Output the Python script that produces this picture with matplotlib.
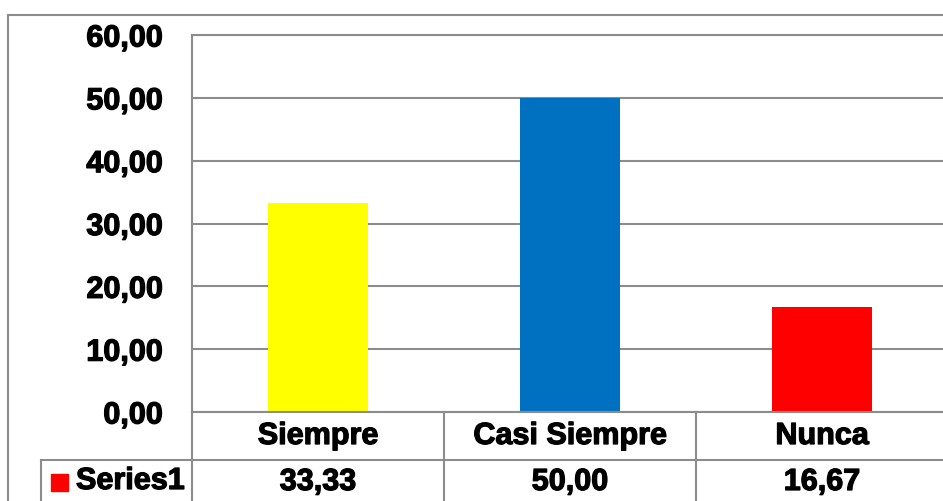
import matplotlib.pyplot as plt
import matplotlib.patheffects as pe
from matplotlib.lines import Line2D
from matplotlib.patches import Rectangle

categories = ['Siempre', 'Casi Siempre', 'Nunca']
values = [33.33, 50.00, 16.67]
colors = ['#ffff00', '#0070c0', '#ff0000']
series_name = 'Series1'
yticks = [0, 10, 20, 30, 40, 50, 60]

W, H = 943, 501
grid_c = '#8c8c8c'
bold = [pe.withStroke(linewidth=0.9, foreground='black')]
font = dict(family=['Liberation Sans', 'DejaVu Sans'], weight='bold', path_effects=bold)

fig = plt.figure(figsize=(W / 100, H / 100), dpi=100)


def fx(px):
    return px / W


def fy(py):
    return 1 - py / H


def fmt(v):
    return ('%.2f' % v).replace('.', ',')


# plot area: left 192, top 35, bottom 412, three columns of 252 px
ax = fig.add_axes([fx(192), fy(412), fx(756), fy(35) - fy(412)])
ax.bar(range(len(values)), values, width=0.4, color=colors, zorder=3)
ax.set_xlim(-0.5, 2.5)
ax.set_ylim(0, 60)
ax.set_yticks(yticks)
ax.set_yticklabels([fmt(v) for v in yticks], fontsize=22, **font)
ax.tick_params(axis='y', length=0, pad=21)
ax.set_xticks([])
ax.yaxis.grid(True, color=grid_c, lw=1.5, zorder=0)
for s in ['right', 'bottom']:
    ax.spines[s].set_visible(False)
for s in ['top', 'left']:
    ax.spines[s].set_color(grid_c)
    ax.spines[s].set_linewidth(1.5)


def hline(y, x0, x1):
    fig.add_artist(Line2D([fx(x0), fx(x1)], [fy(y), fy(y)], color=grid_c, lw=1.5))


def vline(x, y0, y1):
    fig.add_artist(Line2D([fx(x), fx(x)], [fy(y0), fy(y1)], color=grid_c, lw=1.5))


# borde exterior del grafico
hline(15, 8, 960)
vline(8, 15, 510)

# tabla de datos
vline(192, 412, 510)
hline(412, 192, 960)
hline(460, 41, 960)
vline(41, 460, 510)
for i in range(len(categories)):
    cx = 192 + 252 * i + 126
    vline(192 + 252 * (i + 1), 412, 510)
    fig.text(fx(cx), fy(436), categories[i], ha='center', va='center', fontsize=22, **font)
    fig.text(fx(cx), fy(482), fmt(values[i]), ha='center', va='center', fontsize=22, **font)

fig.add_artist(Rectangle((fx(51), fy(491)), fx(17), fy(474) - fy(491), color=colors[2]))
fig.text(fx(76), fy(481), series_name, ha='left', va='center', fontsize=22, **font)

fig.savefig('out.png', dpi=100)
